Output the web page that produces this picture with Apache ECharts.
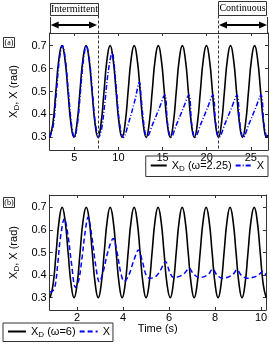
<!DOCTYPE html>
<html><head><meta charset="utf-8">
<script src="https://cdn.jsdelivr.net/npm/echarts@6/dist/echarts.min.js"></script>
<style>html,body{margin:0;padding:0;background:#fff}#c{width:270px;height:345px}</style>
</head><body><div id="c"></div>
<script>
// ---------- Panel (a): omega = 2.25 ----------
const tA_xd = [2.20, 2.56, 2.90, 3.24, 3.59, 3.93, 4.27, 4.61, 4.95, 5.29, 5.63, 5.97, 6.32, 6.66, 7.00, 7.34,
  7.68, 8.02, 8.36, 8.70, 9.05, 9.39, 9.73, 10.07, 10.41, 10.75, 11.09, 11.43, 11.78, 12.12, 12.46, 12.80,
  13.14, 13.48, 13.82, 14.16, 14.51, 14.85, 15.19, 15.53, 15.87, 16.21, 16.55, 16.89, 17.24, 17.58, 17.92, 18.26,
  18.60, 18.94, 19.28, 19.62, 19.97, 20.31, 20.65, 20.99, 21.33, 21.67, 22.01, 22.35, 22.70, 23.04, 23.38, 23.72,
  24.06, 24.40, 24.74, 25.08, 25.43, 25.77, 26.11, 26.45, 26.79, 26.95];
const vA_xd = [0.30, 0.36, 0.50, 0.64, 0.70, 0.64, 0.50, 0.36, 0.30, 0.36, 0.50, 0.64, 0.70, 0.64, 0.50, 0.36,
  0.30, 0.36, 0.50, 0.64, 0.70, 0.64, 0.50, 0.36, 0.30, 0.36, 0.50, 0.64, 0.70, 0.64, 0.50, 0.36,
  0.30, 0.36, 0.50, 0.64, 0.70, 0.64, 0.50, 0.36, 0.30, 0.36, 0.50, 0.64, 0.70, 0.64, 0.50, 0.36,
  0.30, 0.36, 0.50, 0.64, 0.70, 0.64, 0.50, 0.36, 0.30, 0.36, 0.50, 0.64, 0.70, 0.64, 0.50, 0.36,
  0.30, 0.36, 0.50, 0.64, 0.70, 0.64, 0.50, 0.36, 0.30, 0.31];
const tA_x = [2.20, 2.60, 2.95, 3.30, 3.65, 3.98, 4.32, 4.66, 5.00, 5.35, 5.69, 6.03, 6.36, 6.70, 7.04, 7.38, 7.75,
  8.10, 8.45, 8.85, 9.30, 9.50, 9.80, 10.13, 10.55,
  11.20, 11.85, 12.38, 12.55, 12.87, 13.22,
  13.90, 14.60, 15.24, 15.57, 15.95,
  16.62, 17.32, 17.97, 18.30, 18.68,
  19.35, 20.05, 20.70, 21.03, 21.41,
  22.08, 22.78, 23.43, 23.76, 24.14,
  24.81, 25.51, 26.16, 26.49, 26.87, 26.95];
const vA_x = [0.30, 0.35, 0.49, 0.64, 0.70, 0.64, 0.50, 0.36, 0.30, 0.36, 0.50, 0.64, 0.70, 0.64, 0.50, 0.36, 0.30,
  0.34, 0.45, 0.59, 0.67, 0.62, 0.49, 0.36, 0.30,
  0.37, 0.46, 0.54, 0.48, 0.36, 0.30,
  0.36, 0.425, 0.485, 0.36, 0.30,
  0.36, 0.425, 0.485, 0.36, 0.30,
  0.36, 0.425, 0.485, 0.36, 0.30,
  0.36, 0.425, 0.485, 0.36, 0.30,
  0.36, 0.425, 0.485, 0.36, 0.30, 0.302];
const ticksA = [5, 10, 15, 20, 25];
const switchTimesA = [7.68, 21.28];

// ---------- Panel (b): omega = 6 ----------
const tB_xd = [0.83, 0.96, 1.09, 1.22, 1.35, 1.48, 1.61, 1.74, 1.87, 2.00, 2.13, 2.26, 2.40, 2.53, 2.66, 2.79,
  2.92, 3.05, 3.18, 3.31, 3.44, 3.57, 3.70, 3.83, 3.96, 4.09, 4.22, 4.35, 4.48, 4.61, 4.74, 4.87,
  5.00, 5.13, 5.26, 5.39, 5.52, 5.65, 5.78, 5.91, 6.05, 6.18, 6.31, 6.44, 6.57, 6.70, 6.83, 6.96,
  7.09, 7.22, 7.35, 7.48, 7.61, 7.74, 7.87, 8.00, 8.13, 8.26, 8.39, 8.52, 8.65, 8.78, 8.91, 9.04,
  9.17, 9.30, 9.43, 9.56, 9.70, 9.83, 9.96, 10.09, 10.22];
const vB_xd = [0.30, 0.36, 0.50, 0.64, 0.70, 0.64, 0.50, 0.36, 0.30, 0.36, 0.50, 0.64, 0.70, 0.64, 0.50, 0.36,
  0.30, 0.36, 0.50, 0.64, 0.70, 0.64, 0.50, 0.36, 0.30, 0.36, 0.50, 0.64, 0.70, 0.64, 0.50, 0.36,
  0.30, 0.36, 0.50, 0.64, 0.70, 0.64, 0.50, 0.36, 0.30, 0.36, 0.50, 0.64, 0.70, 0.64, 0.50, 0.36,
  0.30, 0.36, 0.50, 0.64, 0.70, 0.64, 0.50, 0.36, 0.30, 0.36, 0.50, 0.64, 0.70, 0.64, 0.50, 0.36,
  0.30, 0.36, 0.50, 0.64, 0.70, 0.64, 0.50, 0.36, 0.30];
const tB_x = [0.81, 0.95, 1.06, 1.16, 1.27, 1.45, 1.60, 1.76, 1.93,
  2.08, 2.22, 2.35, 2.48, 2.63, 2.80, 2.97,
  3.15, 3.33, 3.57, 3.74, 3.90, 4.05,
  4.25, 4.45, 4.67, 4.84, 5.00, 5.15,
  5.40, 5.62, 5.84, 6.02, 6.18,
  6.42, 6.66, 6.87, 7.06, 7.28,
  7.50, 7.72, 7.89, 8.08, 8.30,
  8.55, 8.78, 8.95, 9.15, 9.40,
  9.65, 9.88, 10.08, 10.21];
const vB_x = [0.325, 0.33, 0.36, 0.45, 0.56, 0.65, 0.58, 0.45, 0.345,
  0.38, 0.48, 0.59, 0.657, 0.58, 0.45, 0.37,
  0.42, 0.50, 0.562, 0.50, 0.41, 0.372,
  0.40, 0.46, 0.511, 0.46, 0.40, 0.386,
  0.392, 0.42, 0.46, 0.415, 0.39,
  0.393, 0.407, 0.43, 0.405, 0.39,
  0.392, 0.405, 0.427, 0.40, 0.386,
  0.39, 0.403, 0.423, 0.398, 0.386,
  0.39, 0.40, 0.416, 0.40];
const ticksB = [2, 4, 6, 8, 10];
const ticksY = [0.3, 0.4, 0.5, 0.6, 0.7];

function zip(t, v) { return t.map((x, i) => [x, v[i]]); }

const FONT = '"Liberation Sans", Arial, sans-serif';
const SERIF = '"Liberation Serif", "Times New Roman", serif';
const AX = '#333';

function xAx(g, min, max, ticks, pos, showLabel, name) {
  return {
    type: 'value', gridIndex: g, min: min, max: max, position: pos,
    name: name || '', nameLocation: 'middle', nameGap: 13,
    nameTextStyle: { fontSize: 11, fontFamily: FONT, color: '#000' },
    axisLine: { show: true, onZero: false, lineStyle: { color: AX, width: 1 } },
    axisTick: { show: true, inside: true, length: 3, customValues: ticks, lineStyle: { color: AX } },
    axisLabel: { show: showLabel, customValues: ticks, margin: 2, color: '#000', fontSize: 11, fontFamily: FONT },
    splitLine: { show: false }
  };
}
function yAx(g, pos, showLabel) {
  return {
    type: 'value', gridIndex: g, min: 0.245, max: 0.755, position: pos,
    name: showLabel ? '{a|X}{s|D}{a|, X (rad)}' : '', nameLocation: 'middle', nameGap: 22,
    nameTextStyle: { color: '#000', rich: {
      a: { fontSize: 11, fontFamily: FONT, color: '#000', lineHeight: 14 },
      s: { fontSize: 8, fontFamily: FONT, color: '#000', lineHeight: 6, verticalAlign: 'bottom' } } },
    axisLine: { show: true, onZero: false, lineStyle: { color: AX, width: 1 } },
    axisTick: { show: true, inside: true, length: 3, customValues: ticksY, lineStyle: { color: AX } },
    axisLabel: { show: showLabel, customValues: ticksY, margin: 3, color: '#000', fontSize: 11, fontFamily: FONT,
      formatter: v => v.toFixed(1) },
    splitLine: { show: false }
  };
}
const legendRich = {
  a: { fontSize: 11, fontFamily: FONT, color: '#000', lineHeight: 14 },
  s: { fontSize: 8, fontFamily: FONT, color: '#000', lineHeight: 6, verticalAlign: 'bottom' }
};
const legendNames = {
  XD_a: '{a|X}{s|D}{a| (ω=2.25)}', X_a: '{a|X}',
  XD_b: '{a|X}{s|D}{a| (ω=6)}', X_b: '{a|X}'
};

const chart = echarts.init(document.getElementById('c'), null, { renderer: 'canvas' });
chart.setOption({
  animation: false,
  backgroundColor: '#fff',
  grid: [
    { left: 39, top: 33, width: 229, height: 117 },
    { left: 39, top: 195, width: 229, height: 115 }
  ],
  xAxis: [
    xAx(0, 2.2, 26.95, ticksA, 'bottom', true),
    xAx(0, 2.2, 26.95, ticksA, 'top', false),
    xAx(1, 0.81, 10.21, ticksB, 'bottom', true, 'Time (s)'),
    xAx(1, 0.81, 10.21, ticksB, 'top', false)
  ],
  yAxis: [
    yAx(0, 'left', true), yAx(0, 'right', false),
    yAx(1, 'left', true), yAx(1, 'right', false)
  ],
  legend: [
    { data: ['XD_a', 'X_a'], right: 2, top: 156, selectedMode: false,
      borderColor: AX, borderWidth: 1, padding: [4, 4, 4, 4], itemGap: 3, itemWidth: 16, itemHeight: 10,
      itemStyle: { opacity: 0 },
      formatter: n => legendNames[n], textStyle: { rich: legendRich } },
    { data: ['XD_b', 'X_b'], left: 3, top: 323, selectedMode: false,
      borderColor: AX, borderWidth: 1, padding: [3, 3, 3, 4], itemGap: 3, itemWidth: 18, itemHeight: 10,
      itemStyle: { opacity: 0 },
      formatter: n => legendNames[n], textStyle: { rich: legendRich } }
  ],
  series: [
    { name: 'XD_a', type: 'line', xAxisIndex: 0, yAxisIndex: 0, data: zip(tA_xd, vA_xd), symbol: 'none',
      smooth: 0.5, lineStyle: { color: '#000', width: 1.6 }, itemStyle: { color: '#000' } },
    { name: 'X_a', type: 'line', xAxisIndex: 0, yAxisIndex: 0, data: zip(tA_x, vA_x), symbol: 'none',
      smooth: 0.35, lineStyle: { color: '#0000ff', width: 1.5, type: [5, 2, 1, 2] }, itemStyle: { color: '#0000ff' } },
    { name: 'XD_b', type: 'line', xAxisIndex: 2, yAxisIndex: 2, data: zip(tB_xd, vB_xd), symbol: 'none',
      smooth: 0.5, lineStyle: { color: '#000', width: 1.6 }, itemStyle: { color: '#000' } },
    { name: 'X_b', type: 'line', xAxisIndex: 2, yAxisIndex: 2, data: zip(tB_x, vB_x), symbol: 'none',
      smooth: 0.35, lineStyle: { color: '#0000ff', width: 1.5, type: [5, 3] }, itemStyle: { color: '#0000ff' } }
  ]
});

// Annotations (phase boxes, arrows, dashed switch lines, panel tags)
const xL = chart.convertToPixel({ xAxisIndex: 0 }, switchTimesA[0]);
const xR = chart.convertToPixel({ xAxisIndex: 0 }, switchTimesA[1]);
const plotL = chart.convertToPixel({ xAxisIndex: 0 }, 2.2);
const plotR = chart.convertToPixel({ xAxisIndex: 0 }, 26.95);
const yBot = chart.convertToPixel({ yAxisIndex: 0 }, 0.245);
const yTop = chart.convertToPixel({ yAxisIndex: 0 }, 0.755);

function arrow(x1, x2, y) {
  return [
    { type: 'line', shape: { x1: x1 + 5, y1: y, x2: x2 - 5, y2: y }, style: { stroke: '#000', lineWidth: 2 }, z: 100 },
    { type: 'polygon', shape: { points: [[x1, y], [x1 + 8, y - 3.5], [x1 + 8, y + 3.5]] }, style: { fill: '#000' }, z: 100 },
    { type: 'polygon', shape: { points: [[x2, y], [x2 - 8, y - 3.5], [x2 - 8, y + 3.5]] }, style: { fill: '#000' }, z: 100 }
  ];
}
function tagBox(x, y, w, h, txt, size) {
  return [
    { type: 'rect', shape: { x: x + 0.5, y: y + 0.5, width: w, height: h }, style: { fill: '#fff', stroke: AX, lineWidth: 1 }, z: 100 },
    { type: 'text', style: { text: txt, x: x + 0.5 + w / 2, y: y + 0.5 + h / 2, align: 'center', verticalAlign: 'middle',
      fontSize: size, fontFamily: SERIF, fill: '#000' }, z: 101 }
  ];
}
const g = [];
g.push(...tagBox(Math.round(plotL), 3, Math.round(xL - plotL), 12, 'Intermittent', 10));
g.push(...tagBox(Math.round(xR), 1, Math.round(plotR - xR) - 2, 14, 'Continuous', 10));
g.push(...arrow(plotL + 1, xL - 1, 25));
g.push(...arrow(xR + 1, plotR - 1, 25));
g.push({ type: 'line', shape: { x1: Math.round(plotL) + 0.5, y1: 17, x2: Math.round(plotL) + 0.5, y2: yTop }, style: { stroke: AX, lineWidth: 1 }, z: 100 });
g.push({ type: 'line', shape: { x1: Math.round(plotR) - 0.5, y1: 17, x2: Math.round(plotR) - 0.5, y2: yTop }, style: { stroke: AX, lineWidth: 1 }, z: 100 });
[xL, xR].forEach(x => g.push({ type: 'line', shape: { x1: Math.round(x) + 0.5, y1: 15.5, x2: Math.round(x) + 0.5, y2: yBot },
  style: { stroke: AX, lineWidth: 1, lineDash: [3, 2] }, z: 100 }));
g.push(...tagBox(3, 37, 11, 10, '(a)', 8));
g.push(...tagBox(3, 197, 11, 10, '(b)', 8));
chart.setOption({ graphic: g });
</script>
</body></html>
